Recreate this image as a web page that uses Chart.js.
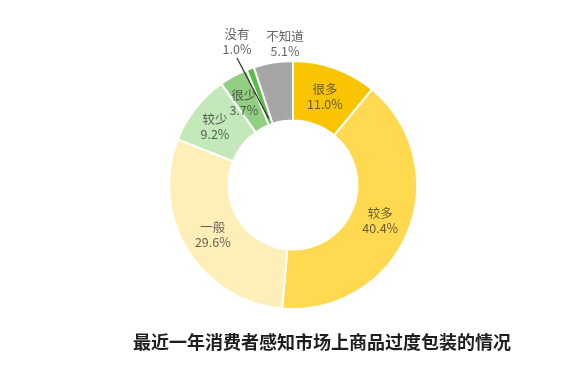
<!DOCTYPE html>
<html>
<head>
<meta charset="utf-8">
<script src="https://cdn.jsdelivr.net/npm/chart.js@4/dist/chart.umd.min.js"></script>
<style>
html,body{margin:0;padding:0;background:#fff;}
#wrap{position:relative;width:588px;height:386px;}
</style>
</head>
<body>
<div id="wrap"><canvas id="c" width="588" height="386"></canvas></div>
<script>
const categories = ['很多', '较多', '一般', '较少', '很少', '没有', '不知道'];
const values = [11.0, 40.4, 29.6, 9.2, 3.7, 1.0, 5.1];
const colors = ['#F8C500', '#FFD94F', '#FEEFB9', '#C3E8BA', '#92CF82', '#5DBB4C', '#A6A6A6'];
const chartTitle = '最近一年消费者感知市场上商品过度包装的情况';

const labelFont = '12.5px "Noto Sans CJK SC", "Noto Sans", sans-serif';
const labelColor = 'rgba(55,55,55,0.78)';

const labelPlugin = {
  id: 'sliceLabels',
  afterDatasetsDraw(chart) {
    const ctx = chart.ctx;
    const meta = chart.getDatasetMeta(0);
    ctx.save();
    ctx.font = labelFont;
    ctx.fillStyle = labelColor;
    ctx.textAlign = 'center';
    ctx.textBaseline = 'middle';
    const first = meta.data[0];
    const cx = first.x, cy = first.y, R = first.outerRadius, r = first.innerRadius;
    meta.data.forEach((arc, i) => {
      const txt1 = categories[i];
      const txt2 = values[i].toFixed(1) + '%';
      let x, y;
      if (categories[i] === '没有') {
        x = cx - 56; y = cy - R - 19;
        ctx.fillText(txt1, x, y - 7.5);
        ctx.fillText(txt2, x, y + 7.5);
        const mid = (arc.startAngle + arc.endAngle) / 2;
        const rr = r + 6;
        ctx.beginPath();
        ctx.strokeStyle = '#2a2a2a';
        ctx.lineWidth = 1.2;
        ctx.moveTo(x, y + 16);
        ctx.lineTo(cx + rr * Math.cos(mid), cy + rr * Math.sin(mid));
        ctx.stroke();
        return;
      }
      if (categories[i] === '不知道') {
        x = cx - 8; y = cy - R - 17;
        ctx.fillText(txt1, x, y - 7.5);
        ctx.fillText(txt2, x, y + 7.5);
        return;
      }
      const p = arc.tooltipPosition();
      x = p.x; y = p.y;
      if (categories[i] === '较少') { x -= 4; }
      if (categories[i] === '很少') { x -= 4; }
      ctx.fillText(txt1, x, y - 7.5);
      ctx.fillText(txt2, x, y + 7.5);
    });
    ctx.restore();
  }
};

const titlePlugin = {
  id: 'bottomTitle',
  afterDraw(chart) {
    const ctx = chart.ctx;
    ctx.save();
    ctx.font = 'bold 18px "Noto Sans CJK SC", sans-serif';
    ctx.fillStyle = '#1e1e1e';
    ctx.textAlign = 'center';
    ctx.textBaseline = 'middle';
    ctx.fillText(chartTitle, 322, 342);
    ctx.restore();
  }
};

new Chart(document.getElementById('c'), {
  type: 'doughnut',
  data: {
    labels: categories,
    datasets: [{
      data: values,
      backgroundColor: colors,
      borderColor: '#ffffff',
      borderWidth: 2,
      hoverOffset: 0
    }]
  },
  options: {
    responsive: false,
    animation: false,
    cutout: '52%',
    layout: { padding: { top: 60, bottom: 76, left: 0, right: 2 } },
    plugins: {
      legend: { display: false },
      tooltip: { enabled: false },
      title: { display: false }
    }
  },
  plugins: [labelPlugin, titlePlugin]
});
</script>
</body>
</html>
